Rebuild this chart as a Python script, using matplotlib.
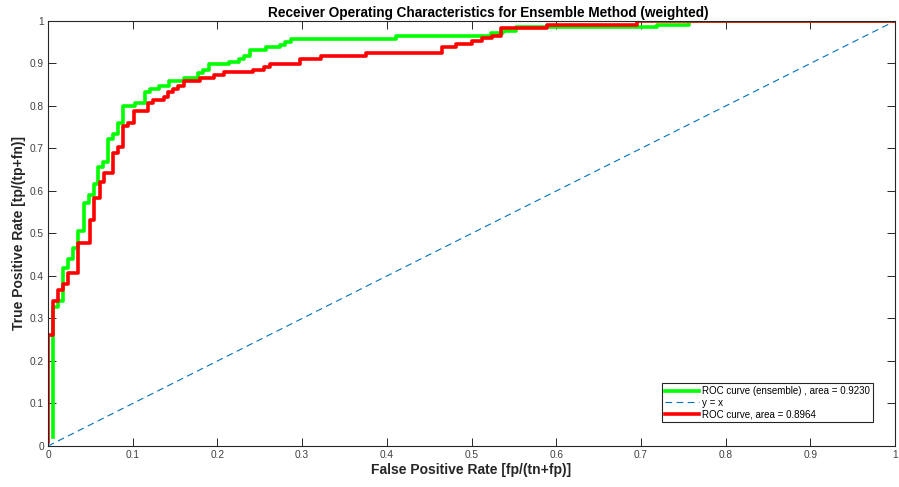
import numpy as np
import matplotlib
matplotlib.use("Agg")
import matplotlib.pyplot as plt

plt.rcParams['font.family'] = ['Liberation Sans', 'DejaVu Sans']

# ROC points (fpr where the curve steps up, tpr after the step)
ens_fpr = [0.0055, 0.0055, 0.012, 0.018, 0.024, 0.030, 0.036, 0.042, 0.048, 0.054,
           0.059, 0.065, 0.071, 0.077, 0.083, 0.089, 0.103, 0.115, 0.121, 0.131,
           0.143, 0.161, 0.177, 0.183, 0.190, 0.214, 0.226, 0.231, 0.238, 0.257,
           0.274, 0.280, 0.287, 0.411, 0.523, 0.537, 0.553, 0.719, 0.757, 1.0]
ens_tpr = [0.022, 0.328, 0.340, 0.418, 0.439, 0.465, 0.507, 0.571, 0.591, 0.616,
           0.657, 0.669, 0.722, 0.734, 0.761, 0.800, 0.808, 0.834, 0.840, 0.847,
           0.859, 0.865, 0.877, 0.885, 0.899, 0.904, 0.911, 0.918, 0.932, 0.938,
           0.944, 0.951, 0.958, 0.965, 0.971, 0.977, 0.985, 0.991, 1.0, 1.0]

roc_fpr = [0.0, 0.0, 0.006, 0.012, 0.018, 0.024, 0.036, 0.049, 0.054, 0.061,
           0.066, 0.077, 0.083, 0.089, 0.095, 0.102, 0.118, 0.124, 0.137, 0.142,
           0.148, 0.154, 0.161, 0.179, 0.196, 0.208, 0.242, 0.255, 0.262, 0.297,
           0.322, 0.375, 0.465, 0.482, 0.500, 0.512, 0.524, 0.535, 0.589, 0.695, 1.0]
roc_tpr = [0.010, 0.261, 0.340, 0.367, 0.381, 0.406, 0.478, 0.532, 0.583, 0.622,
           0.642, 0.689, 0.703, 0.753, 0.761, 0.789, 0.806, 0.814, 0.820, 0.834,
           0.840, 0.847, 0.859, 0.865, 0.873, 0.879, 0.885, 0.891, 0.899, 0.911,
           0.918, 0.925, 0.938, 0.946, 0.954, 0.959, 0.965, 0.984, 0.991, 1.0, 1.0]

ticks = [0, 0.1, 0.2, 0.3, 0.4, 0.5, 0.6, 0.7, 0.8, 0.9, 1]
tick_labels = ['0', '0.1', '0.2', '0.3', '0.4', '0.5', '0.6', '0.7', '0.8', '0.9', '1']

fig = plt.figure(figsize=(8.99, 4.87), dpi=100)
ax = fig.add_axes([0.0534, 0.0842, 0.9422, 0.8727])

ax.step(ens_fpr, ens_tpr, where='post', color='#00ff00', lw=2.6,
        label='ROC curve (ensemble) , area = 0.9230')
ax.plot([0, 1], [0, 1], '--', color='#0072bd', lw=0.8, dashes=(6, 4), label='y = x')
ax.step(roc_fpr, roc_tpr, where='post', color='#ff0000', lw=2.6,
        label='ROC curve, area = 0.8964')

ax.set_xlim(0, 1)
ax.set_ylim(0, 1)
ax.set_xticks(ticks)
ax.set_xticklabels(tick_labels)
ax.set_yticks(ticks)
ax.set_yticklabels(tick_labels)
ax.tick_params(direction='in', length=6, width=0.7, top=True, right=True,
               labelsize=7.3, labelcolor='#404040', color='#262626', pad=3)
for s in ax.spines.values():
    s.set_linewidth(0.8)
    s.set_color('#262626')

ax.set_title('Receiver Operating Characteristics for Ensemble Method (weighted)',
             fontsize=9.8, fontweight='bold', pad=3, x=0.5195)
ax.set_xlabel('False Positive Rate [fp/(tn+fp)]', fontsize=10, fontweight='bold',
              color='#262626', labelpad=2)
ax.set_ylabel('True Positive Rate [tp/(tp+fn)]', fontsize=10, fontweight='bold',
              color='#262626', labelpad=2.5)

leg = ax.legend(loc='lower right', bbox_to_anchor=(0.974, 0.0565), borderaxespad=0,
                fontsize=7, handlelength=3.5, handletextpad=0.3, labelspacing=0.15,
                borderpad=0.3, fancybox=False, framealpha=1, edgecolor='#262626')
leg.get_frame().set_linewidth(0.8)

fig.savefig('out.png', dpi=100)
